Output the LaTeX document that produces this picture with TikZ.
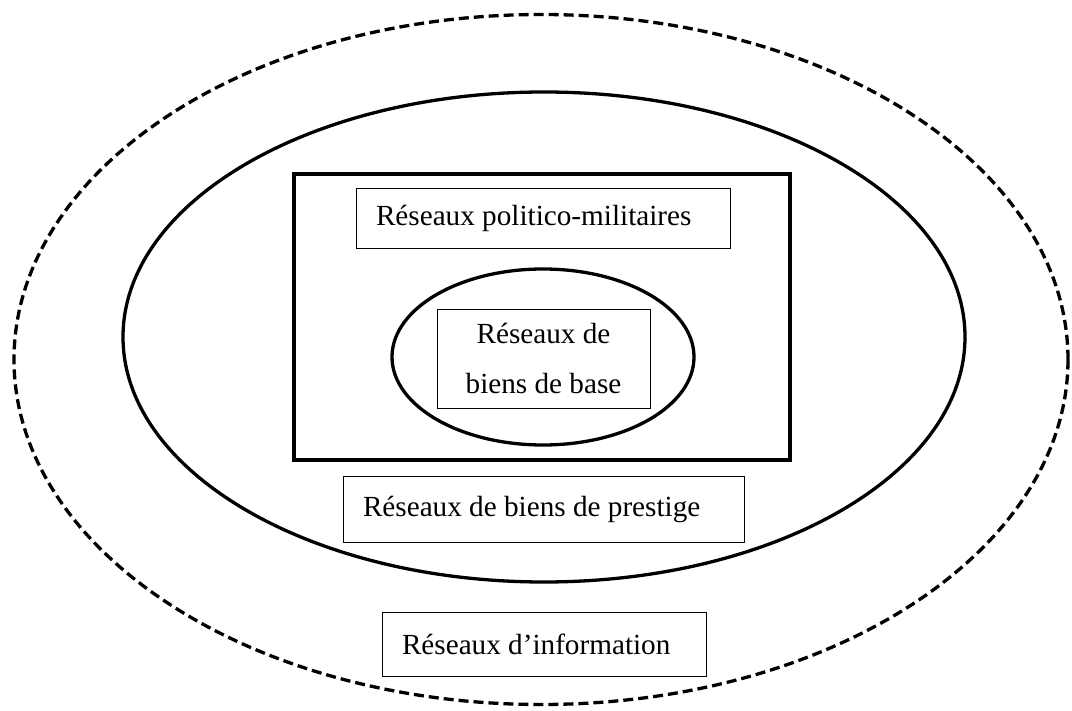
\documentclass[tikz,border=0pt]{standalone}
\usepackage{fontspec}
\setmainfont{Liberation Serif}

\begin{document}
\begin{tikzpicture}[x=1pt,y=-1pt,
    netbox/.style={draw,line width=0.9pt,inner xsep=20pt,inner ysep=0pt,
      align=flush left,font=\fontsize{29.2}{50}\selectfont}]
    \useasboundingbox (0,0) rectangle (1072,711);
    % information: dashed outer ring
    \draw[line width=3.3pt,dash pattern=on 10pt off 5pt] (541,359.5) ellipse [x radius=527,y radius=345];
    % prestige goods
    \draw[line width=3.3pt] (544,337) ellipse [x radius=421,y radius=245];
    % politico-military frame
    \draw[line width=4pt] (294,174) rectangle (790,460);
    % basic goods
    \draw[line width=3.3pt] (543,357) ellipse [x radius=151,y radius=88];
    \node[netbox,text width=334pt,minimum height=60pt] (polmil) at (543,218) {Réseaux politico-militaires};
    \node[netbox,align=flush center,text width=173pt,minimum height=99pt] (base) at (543.5,358.5) {Réseaux de\\biens de base};
    \node[netbox,text width=361pt,minimum height=66pt] (prestige) at (543.5,509) {Réseaux de biens de prestige};
    \node[netbox,text width=284pt,minimum height=64pt] (info) at (544,644) {Réseaux d’information};
  \end{tikzpicture}
\end{document}
